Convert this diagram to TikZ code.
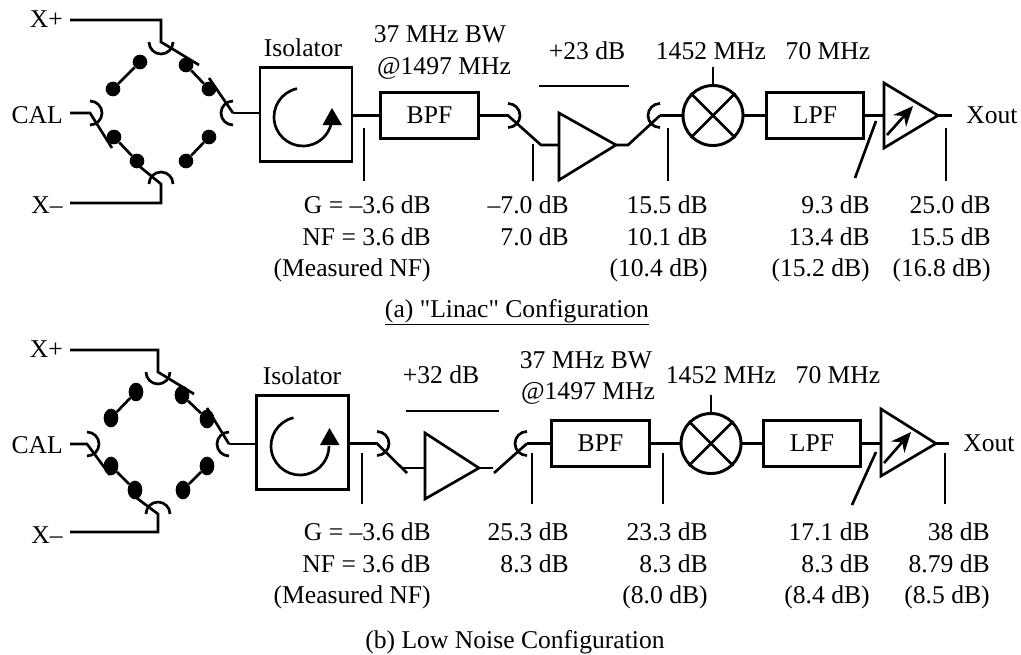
\documentclass[tikz,border=0pt]{standalone}
\usepackage{fontspec}
\setmainfont{Liberation Serif}
\newfontfamily\capfont{Liberation Serif}
\usetikzlibrary{arrows.meta,shapes.geometric}
\tikzset{
  wire/.style={line width=2pt},
  txt/.style={inner sep=0pt,anchor=base,font=\fontsize{19.2}{23.6}\selectfont},
  txtr/.style={inner sep=0pt,anchor=base east,font=\fontsize{19.2}{23.6}\selectfont},
  rows/.style={inner sep=0pt,anchor=north east,align=right,font=\fontsize{19.2}{23.6}\selectfont},
  filter/.style={draw,line width=2.2pt,minimum width=73pt,minimum height=35pt,inner sep=0pt,font=\fontsize{19.2}{23.6}\selectfont},
  isobox/.style={draw,line width=2.2pt,minimum width=69pt,minimum height=70pt,inner sep=0pt},
  mixer/.style={draw,circle,line width=2.2pt,minimum size=45pt,inner sep=0pt},
  dota/.style={fill,circle,minimum size=11pt,inner sep=0pt},
  dotb/.style={fill,ellipse,minimum width=11pt,minimum height=14pt,inner sep=0pt},
}
\newcommand{\contact}[2]{\draw[wire] ([shift={(#2-90:12)}]#1) arc[start angle=#2-90,end angle=#2+90,radius=12];}
\begin{document}
\begin{tikzpicture}[x=0.75pt,y=0.75pt]
\useasboundingbox (0,-654) rectangle (1021,0);
% (a) Linac
\node[txtr] (xpa) at (63,-27) {X+};
\node[txtr] (cala) at (63,-123) {CAL};
\node[txtr] (xma) at (63,-213) {X–};
\coordinate (xpa0) at (70,-20);
\coordinate (xpa1) at (161,-20);
\coordinate (xpa2) at (161,-42);
\coordinate (xpa3) at (199,-65);
\coordinate (outa0) at (209,-78);
\coordinate (outa1) at (233,-113);
\coordinate (cala0) at (70,-113);
\coordinate (cala1) at (90,-113);
\coordinate (cala2) at (112,-148);
\coordinate (xma0) at (70,-203);
\coordinate (xma1) at (161,-203);
\coordinate (xma2) at (161,-184);
\coordinate (xma3) at (133,-161);
\node[dota] (d1a) at (186,-65) {};
\node[dota] (d2a) at (209,-89) {};
\node[dota] (d3a) at (140,-62) {};
\node[dota] (d4a) at (113,-89) {};
\node[dota] (d5a) at (209,-137) {};
\node[dota] (d6a) at (186,-161) {};
\node[dota] (d7a) at (114,-137) {};
\node[dota] (d8a) at (137,-161) {};
\draw[wire] (xpa0) -- (xpa1) -- (xpa2) -- (xpa3);
\draw[wire] (outa0) -- (outa1);
\draw[wire] (cala0) -- (cala1) -- (cala2);
\draw[wire] (xma0) -- (xma1) -- (xma2) -- (xma3);
\draw[wire] (d1a) -- (d2a);
\draw[wire] (d3a) -- (d4a);
\draw[wire] (d5a) -- (d6a);
\draw[wire] (d7a) -- (d8a);
\contact{xpa2}{270}
\contact{outa1}{180}
\contact{cala1}{0}
\contact{xma2}{90}
\node[isobox] (isoa) at (306,-114.5) {};
\node[txt] (isotxta) at (303,-56) {Isolator};
\coordinate (ca0) at (303,-117);
\draw[wire] ([shift={(102:29)}]ca0) arc[start angle=102,end angle=345,radius=29];
\coordinate (ta0) at (332,-108);
\coordinate (ta1) at (322.5,-125);
\coordinate (ta2) at (342,-125);
\fill (ta0) -- (ta1) -- (ta2) -- cycle;
\node[filter] (bpfa) at (429.5,-115.5) {BPF};
\node[txt] (bwa) at (440,-42) {37 MHz BW};
\node[txt] (cfa) at (444,-74) {@1497 MHz};
\coordinate (sa0) at (508,-115.5);
\coordinate (sa1) at (541,-145);
\coordinate (ampa0) at (559,-145);
\coordinate (ampa1) at (559,-113);
\coordinate (ampa2) at (559,-180);
\coordinate (ampa3) at (616,-145);
\coordinate (sa2) at (628,-145);
\coordinate (sa3) at (660,-115.5);
\draw[wire] (outa1) -- (isoa.west |- outa1);
\draw[wire] (isoa.east |- bpfa) -- (bpfa.west);
\draw[wire] (bpfa.east) -- (sa0) -- (sa1) -- (ampa0);
\draw[wire] (ampa1) -- (ampa2) -- (ampa3) -- cycle;
\draw[wire] (ampa3) -- (sa2) -- (sa3);
\contact{sa0}{0}
\contact{sa3}{180}
\coordinate (ga0) at (539,-86);
\coordinate (ga1) at (629,-86);
\draw[wire] (ga0) -- (ga1);
\node[txt] (gaina) at (587,-59) {+23 dB};
\node[mixer] (mixa) at (713,-115.5) {};
\draw[wire] (mixa.45) -- (mixa.225);
\draw[wire] (mixa.135) -- (mixa.315);
\draw[wire] (sa3) -- (mixa.west);
\coordinate (loa) at (713,-67);
\draw[wire] (mixa.north) -- (loa);
\node[txt] (lotxta) at (711,-59) {1452 MHz};
\node[txt] (iftxta) at (828,-59) {70 MHz};
\node[filter] (lpfa) at (815,-115.5) {LPF};
\draw[wire] (mixa.east) -- (lpfa.west);
\coordinate (vga0) at (884,-83);
\coordinate (vga1) at (884,-148);
\coordinate (vga2) at (938,-115.5);
\coordinate (vga3) at (884,-115.5);
\coordinate (vga4) at (952,-115.5);
\coordinate (arra0) at (887,-135);
\coordinate (arra1) at (913,-106);
\draw[wire] (lpfa.east) -- (vga3);
\draw[wire] (vga0) -- (vga1) -- (vga2) -- cycle;
\draw[wire] (vga2) -- (vga4);
\draw[wire,-{Stealth[length=15pt,width=13pt]}] (arra0) -- (arra1);
\node[txt] (xouta) at (992,-123) {Xout};
\coordinate (pa0) at (364,-128);
\coordinate (qa0) at (364,-181);
\coordinate (pa1) at (533,-144);
\coordinate (qa1) at (533,-181);
\coordinate (pa2) at (668,-128);
\coordinate (qa2) at (668,-181);
\coordinate (pa3) at (876,-121);
\coordinate (qa3) at (855,-178);
\coordinate (pa4) at (946,-128);
\coordinate (qa4) at (946,-181);
\draw[wire] (pa0) -- (qa0);
\draw[wire] (pa1) -- (qa1);
\draw[wire] (pa2) -- (qa2);
\draw[wire] (pa3) -- (qa3);
\draw[wire] (pa4) -- (qa4);
\node[rows] (r0a) at (431,-195.5) {G = –3.6 dB\\NF = 3.6 dB\\(Measured NF)};
\node[rows] (r1a) at (569,-195.5) {–7.0 dB\\7.0 dB};
\node[rows] (r2a) at (708,-195.5) {15.5 dB\\10.1 dB\\(10.4 dB)};
\node[rows] (r3a) at (870,-195.5) {9.3 dB\\13.4 dB\\(15.2 dB)};
\node[rows] (r4a) at (991,-195.5) {25.0 dB\\15.5 dB\\(16.8 dB)};
\node[txt] (capa) at (517,-317) {\capfont\underline{(a) "Linac" Configuration}};
% (b) Low Noise
\node[txtr] (xpb) at (63,-357) {X+};
\node[txtr] (calb) at (63,-453) {CAL};
\node[txtr] (xmb) at (63,-543) {X–};
\coordinate (xpb0) at (70,-350);
\coordinate (xpb1) at (158,-350);
\coordinate (xpb2) at (158,-372);
\coordinate (xpb3) at (194,-394);
\coordinate (outb0) at (207,-408);
\coordinate (outb1) at (229,-444);
\coordinate (calb0) at (70,-444);
\coordinate (calb1) at (87,-444);
\coordinate (calb2) at (110,-475);
\coordinate (xmb0) at (70,-532);
\coordinate (xmb1) at (158,-532);
\coordinate (xmb2) at (158,-514);
\coordinate (xmb3) at (130,-493);
\node[dotb] (d1b) at (182,-395) {};
\node[dotb] (d2b) at (207,-419) {};
\node[dotb] (d3b) at (136,-392) {};
\node[dotb] (d4b) at (111,-418) {};
\node[dotb] (d5b) at (207,-466) {};
\node[dotb] (d6b) at (183,-490) {};
\node[dotb] (d7b) at (111,-466) {};
\node[dotb] (d8b) at (135,-490) {};
\draw[wire] (xpb0) -- (xpb1) -- (xpb2) -- (xpb3);
\draw[wire] (outb0) -- (outb1);
\draw[wire] (calb0) -- (calb1) -- (calb2);
\draw[wire] (xmb0) -- (xmb1) -- (xmb2) -- (xmb3);
\draw[wire] (d1b) -- (d2b);
\draw[wire] (d3b) -- (d4b);
\draw[wire] (d5b) -- (d6b);
\draw[wire] (d7b) -- (d8b);
\contact{xpb2}{270}
\contact{outb1}{180}
\contact{calb1}{0}
\contact{xmb2}{90}
\node[isobox] (isob) at (302.5,-442.5) {};
\node[txt] (isotxtb) at (302,-384) {Isolator};
\coordinate (cb0) at (300,-446);
\draw[wire] ([shift={(103:29)}]cb0) arc[start angle=103,end angle=360,radius=29];
\coordinate (tb0) at (329.5,-428);
\coordinate (tb1) at (320,-445);
\coordinate (tb2) at (339.5,-445);
\fill (tb0) -- (tb1) -- (tb2) -- cycle;
\coordinate (sb0) at (377,-443.5);
\coordinate (sb1) at (407,-473);
\coordinate (ampb0) at (403,-468);
\coordinate (ampb1) at (425,-433);
\coordinate (ampb2) at (425,-499);
\coordinate (ampb3) at (479,-468);
\coordinate (ampb4) at (425,-468);
\coordinate (sb2) at (493,-468);
\coordinate (sb3) at (494,-473);
\coordinate (sb4) at (527,-443.5);
\draw[wire] (outb1) -- (isob.west |- outb1);
\draw[wire] (isob.east |- sb0) -- (sb0) -- (sb1);
\draw[wire] (ampb0) -- (ampb4);
\draw[wire] (ampb1) -- (ampb2) -- (ampb3) -- cycle;
\draw[wire] (ampb3) -- (sb2);
\draw[wire] (sb3) -- (sb4);
\contact{sb0}{0}
\contact{sb4}{180}
\coordinate (gb0) at (406,-411);
\coordinate (gb1) at (499,-411);
\draw[wire] (gb0) -- (gb1);
\node[txt] (gainb) at (441,-383) {+32 dB};
\node[filter] (bpfb) at (600.5,-443.5) {BPF};
\node[txt] (bwb) at (586,-368) {37 MHz BW};
\node[txt] (cfb) at (588,-399) {@1497 MHz};
\draw[wire] (sb4) -- (bpfb.west);
\node[mixer] (mixb) at (711,-443.5) {};
\draw[wire] (mixb.45) -- (mixb.225);
\draw[wire] (mixb.135) -- (mixb.315);
\draw[wire] (bpfb.east) -- (mixb.west);
\coordinate (lob) at (711,-395);
\draw[wire] (mixb.north) -- (lob);
\node[txt] (lotxtb) at (721,-383) {1452 MHz};
\node[txt] (iftxtb) at (838,-383) {70 MHz};
\node[filter] (lpfb) at (812,-443.5) {LPF};
\draw[wire] (mixb.east) -- (lpfb.west);
\coordinate (vgb0) at (881,-409);
\coordinate (vgb1) at (881,-476);
\coordinate (vgb2) at (936,-443.5);
\coordinate (vgb3) at (881,-443.5);
\coordinate (vgb4) at (949,-443.5);
\coordinate (arrb0) at (884,-463);
\coordinate (arrb1) at (911,-432);
\draw[wire] (lpfb.east) -- (vgb3);
\draw[wire] (vgb0) -- (vgb1) -- (vgb2) -- cycle;
\draw[wire] (vgb2) -- (vgb4);
\draw[wire,-{Stealth[length=15pt,width=13pt]}] (arrb0) -- (arrb1);
\node[txt] (xoutb) at (989,-451) {Xout};
\coordinate (pb0) at (362,-453);
\coordinate (qb0) at (362,-504);
\coordinate (pb1) at (532,-453);
\coordinate (qb1) at (532,-504);
\coordinate (pb2) at (663,-453);
\coordinate (qb2) at (663,-504);
\coordinate (pb3) at (876,-452);
\coordinate (qb3) at (852,-505);
\coordinate (pb4) at (945,-453);
\coordinate (qb4) at (945,-504);
\draw[wire] (pb0) -- (qb0);
\draw[wire] (pb1) -- (qb1);
\draw[wire] (pb2) -- (qb2);
\draw[wire] (pb3) -- (qb3);
\draw[wire] (pb4) -- (qb4);
\node[rows] (r0b) at (431,-522.5) {G = –3.6 dB\\NF = 3.6 dB\\(Measured NF)};
\node[rows] (r1b) at (569,-522.5) {25.3 dB\\8.3 dB};
\node[rows] (r2b) at (708,-522.5) {23.3 dB\\8.3 dB\\(8.0 dB)};
\node[rows] (r3b) at (870,-522.5) {17.1 dB\\8.3 dB\\(8.4 dB)};
\node[rows] (r4b) at (990,-522.5) {38 dB\\8.79 dB\\(8.5 dB)};
\node[txt] (capb) at (515,-648) {\capfont\underline{(b) Low Noise Configuration}};
\end{tikzpicture}
\end{document}
